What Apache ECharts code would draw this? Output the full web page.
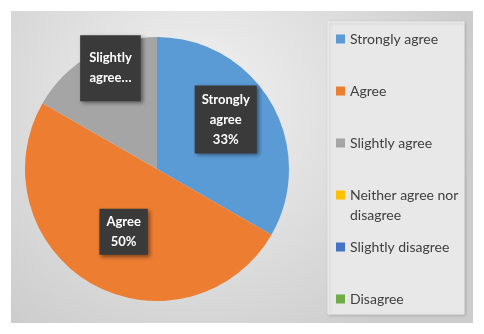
<!DOCTYPE html>
<html>
<head>
<meta charset="utf-8">
<script src="https://cdn.jsdelivr.net/npm/echarts@6/dist/echarts.min.js"></script>
<style>
  html, body { margin: 0; padding: 0; background: #fff; }
  #chart { width: 484px; height: 334px; }
</style>
</head>
<body>
<div id="chart"></div>
<script>
// answer categories, in legend order
var categories = ['Strongly agree', 'Agree', 'Slightly agree', 'Neither agree nor disagree', 'Slightly disagree', 'Disagree'];
// share of responses (%)
var shares = [33.3, 50, 16.7, 0, 0, 0];
// what each slice label says (Excel cut the gray one short)
var labelTexts = ['Strongly\nagree\n33%', 'Agree\n50%', 'Slightly\nagree…', '', '', ''];

var colors = ['#5b9bd5', '#ed7d31', '#a5a5a5', '#ffc000', '#4472c4', '#70ad47'];
// nudge of each data label away from the default "inside" spot
var labelNudge = [[9, -15], [1, 3], [-12, -41], [0, 0], [0, 0], [0, 0]];
var labelPadding = [[4, 7], [3, 7], [13, 9], [4, 7], [4, 7], [4, 7]];

var chart = echarts.init(document.getElementById('chart'));

var pieData = [];
for (var i = 0; i < categories.length; i++) {
  pieData.push({
    name: categories[i],
    value: shares[i],
    label: { show: shares[i] > 0, formatter: labelTexts[i], padding: labelPadding[i] }
  });
}

// one legend per entry so each row sits where Excel put it
var legends = [];
var rowStep = 52;
for (var j = 0; j < categories.length; j++) {
  var iconCenter = 39 + rowStep * j;
  var twoLines = categories[j] === 'Neither agree nor disagree';
  legends.push({
    data: [categories[j]],
    orient: 'vertical',
    left: 336,
    top: twoLines ? iconCenter - 30 : iconCenter - 10,
    itemWidth: 9,
    itemHeight: 9,
    itemGap: 0,
    padding: 0,
    icon: 'rect',
    selectedMode: false,
    formatter: function (name) {
      // blank first line keeps the icon level with "Neither agree nor"
      return name === 'Neither agree nor disagree' ? ' \nNeither agree nor\ndisagree' : name;
    },
    textStyle: {
      fontFamily: 'Lato',
      fontSize: 14,
      lineHeight: 20,
      color: '#404040'
    }
  });
}

var option = {
  backgroundColor: '#ffffff',
  color: colors,
  animation: false,
  graphic: [
    {
      type: 'rect',
      shape: { x: 11, y: 11, width: 462, height: 312 },
      silent: true,
      z: -10,
      style: {
        fill: {
          type: 'radial', x: 0.4, y: 0.3, r: 0.9,
          colorStops: [
            { offset: 0, color: '#f2f2f2' },
            { offset: 1, color: '#cdcdcd' }
          ]
        }
      }
    },
    {
      type: 'rect',
      shape: { x: 328, y: 22, width: 136, height: 292 },
      silent: true,
      z: -9,
      style: {
        fill: '#e8e8e8',
        stroke: '#f0f0f0',
        lineWidth: 1,
        shadowColor: 'rgba(0,0,0,0.15)',
        shadowBlur: 3,
        shadowOffsetX: 1,
        shadowOffsetY: 1
      }
    }
  ],
  legend: legends,
  series: [{
    type: 'pie',
    center: [157, 169],
    radius: 132,
    startAngle: 90,
    clockwise: true,
    silent: true,
    data: pieData,
    label: {
      position: 'inside',
      fontFamily: 'Lato',
      fontWeight: 'bold',
      fontSize: 13,
      lineHeight: 20,
      color: '#ffffff',
      backgroundColor: '#3a3a3a',
      shadowColor: 'rgba(0,0,0,0.45)',
      shadowBlur: 4,
      shadowOffsetX: 2,
      shadowOffsetY: 2
    },
    labelLine: { show: false },
    labelLayout: function (params) {
      var n = labelNudge[params.dataIndex];
      return { dx: n[0], dy: n[1] };
    }
  }]
};

chart.setOption(option);
</script>
</body>
</html>
